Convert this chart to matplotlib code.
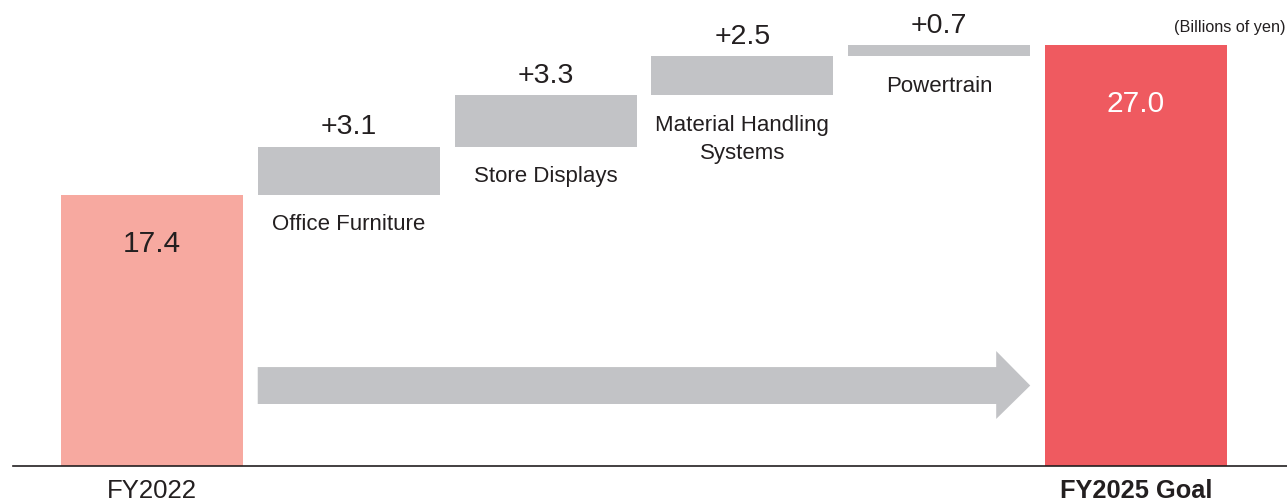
import matplotlib
matplotlib.use("Agg")
import matplotlib.pyplot as plt
from matplotlib.patches import Polygon

# ---- data ----
start_label = "FY2022"
start_value = 17.4
segments = ["Office Furniture", "Store Displays", "Material Handling\nSystems", "Powertrain"]
increments = [3.1, 3.3, 2.5, 0.7]
goal_label = "FY2025 Goal"
goal_value = 27.0
unit_note = "(Billions of yen)"

# ---- style ----
C_START = "#F7A9A0"
C_GOAL = "#EF5A60"
C_GRAY = "#C2C3C6"
C_TEXT = "#231F20"
plt.rcParams["font.family"] = ["Liberation Sans", "DejaVu Sans"]

W, H, DPI = 1287, 501, 100
fig = plt.figure(figsize=(W / DPI, H / DPI), dpi=DPI)
ax = fig.add_axes([0, 0, 1, 1])
ax.set_xlim(-0.772, 5.767)
ax.set_ylim(-2.246, 29.91)
ax.axis("off")

bw = 0.925
n = len(increments)
label_y = -2.05

# start bar
ax.bar(0, start_value, width=bw, color=C_START, linewidth=0)
ax.annotate(f"{start_value:.1f}", (0, start_value), xytext=(0, -35.5), textcoords="offset points",
            ha="center", va="center", fontsize=21.5, color=C_TEXT)
ax.text(0, label_y, start_label, ha="center", va="baseline", fontsize=18.5, color=C_TEXT)

# increments
cum = start_value
for i, (lab, inc) in enumerate(zip(segments, increments), start=1):
    ax.bar(i, inc, bottom=cum, width=bw, color=C_GRAY, linewidth=0)
    top = cum + inc
    ax.annotate(f"+{inc:.1f}", (i, top), xytext=(0, 4.5), textcoords="offset points",
                ha="center", va="bottom", fontsize=20.5, color=C_TEXT)
    ax.annotate(lab, (i, cum), xytext=(0, -14), textcoords="offset points",
                ha="center", va="top", fontsize=16, color=C_TEXT, linespacing=1.45)
    cum = top

# goal bar
gx = n + 1
ax.bar(gx, goal_value, width=bw, color=C_GOAL, linewidth=0)
ax.annotate(f"{goal_value:.1f}", (gx, goal_value), xytext=(0, -42.5), textcoords="offset points",
            ha="center", va="center", fontsize=21.5, color="white")
ax.text(gx, label_y, goal_label, ha="center", va="baseline", fontsize=18.3, color=C_TEXT,
        fontweight="bold")

# unit note
ax.text(0.9985, 0.946, unit_note, transform=ax.transAxes, ha="right", va="center",
        fontsize=11.7, color=C_TEXT)

# baseline
ax.axhline(0, xmin=13 / W, xmax=1.0, color=C_TEXT, linewidth=1.2)

# big arrow from first increment to last increment
x0 = 1 - bw / 2
x1 = n + bw / 2
hl = 0.173
yb0, yb1 = 3.98, 6.35
yh0, yh1 = 3.02, 7.38
ym = (yb0 + yb1) / 2
arrow = Polygon([(x0, yb0), (x1 - hl, yb0), (x1 - hl, yh0), (x1, ym),
                 (x1 - hl, yh1), (x1 - hl, yb1), (x0, yb1)],
                closed=True, facecolor=C_GRAY, edgecolor="none")
ax.add_patch(arrow)

fig.savefig("out.png", dpi=DPI)
